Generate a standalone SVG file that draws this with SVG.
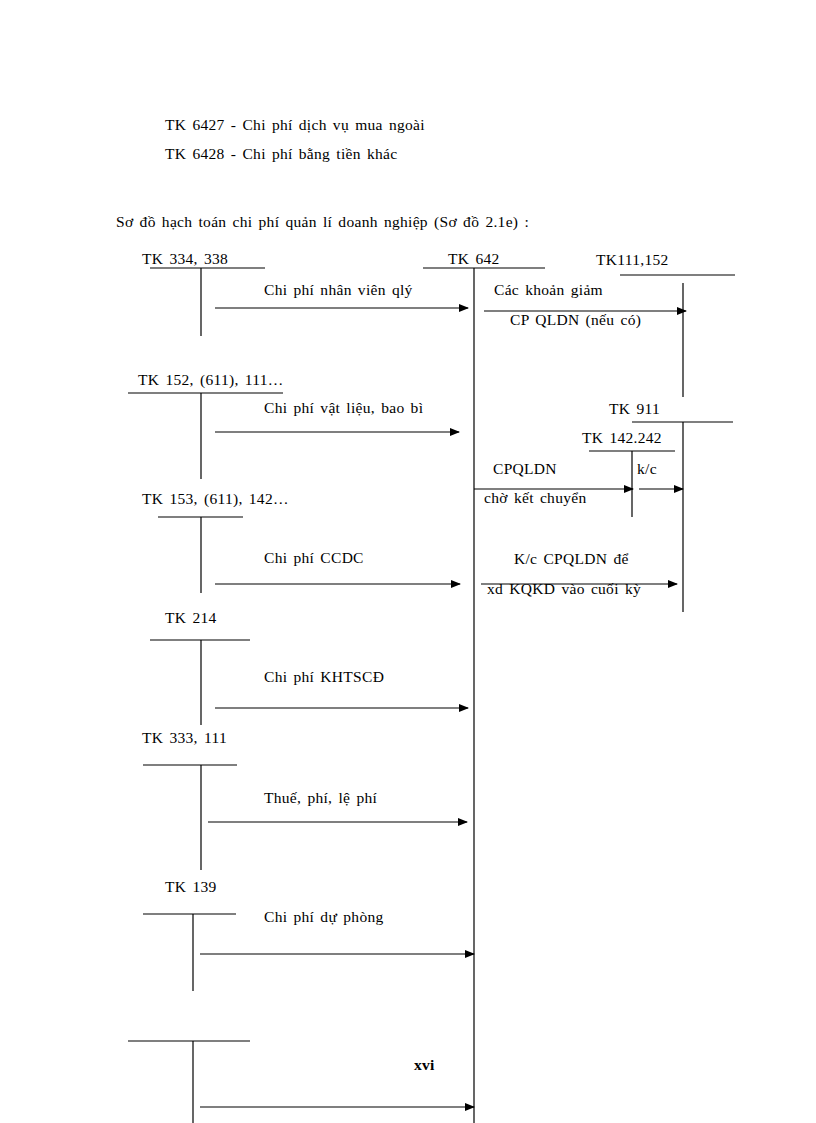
<svg xmlns="http://www.w3.org/2000/svg" width="816" height="1123" viewBox="0 0 816 1123">
<style>
text{font-family:"Liberation Serif",serif;font-size:15.5px;fill:#000;letter-spacing:0.3px;word-spacing:2px}
line{stroke:#000;stroke-width:1.2}
.a{marker-end:url(#ah)}
</style>
<defs><marker id="ah" markerWidth="10" markerHeight="8" refX="9" refY="4" orient="auto" markerUnits="userSpaceOnUse"><path d="M0,0L10,4L0,8z"/></marker></defs>
<rect width="816" height="1123" fill="#fff"/>
<text x="165" y="130">TK 6427 - Chi phí dịch vụ mua ngoài</text>
<text x="165" y="159">TK 6428 - Chi phí bằng tiền khác</text>
<text x="116" y="227">Sơ đồ hạch toán chi phí quản lí doanh nghiệp (Sơ đồ 2.1e) :</text>
<g id="tk642"><text x="448" y="264">TK 642</text><line x1="423" y1="268" x2="545" y2="268"/><line x1="474" y1="268" x2="474" y2="1123"/></g>
<g id="tk111"><text x="596" y="265">TK111,152</text><line x1="620" y1="275" x2="735" y2="275"/><line x1="683" y1="283" x2="683" y2="397"/></g>
<g id="tk911"><text x="609" y="414">TK 911</text><line x1="632" y1="422" x2="733" y2="422"/><line x1="683" y1="422" x2="683" y2="612"/></g>
<g id="tk142"><text x="582" y="443">TK 142.242</text><line x1="589" y1="451" x2="675" y2="451"/><line x1="632" y1="451" x2="632" y2="517"/></g>
<g id="tk334"><text x="142" y="264">TK 334, 338</text><line x1="150" y1="268" x2="265" y2="268"/><line x1="201" y1="268" x2="201" y2="336"/></g>
<g id="tk152"><text x="138" y="385">TK 152, (611), 111…</text><line x1="128" y1="393" x2="283" y2="393"/><line x1="201" y1="393" x2="201" y2="479"/></g>
<g id="tk153"><text x="142" y="504">TK 153, (611), 142…</text><line x1="158" y1="517" x2="243" y2="517"/><line x1="201" y1="517" x2="201" y2="593"/></g>
<g id="tk214"><text x="165" y="623">TK 214</text><line x1="150" y1="640" x2="250" y2="640"/><line x1="201" y1="640" x2="201" y2="725"/></g>
<g id="tk333"><text x="142" y="743">TK 333, 111</text><line x1="143" y1="765" x2="237" y2="765"/><line x1="201" y1="765" x2="201" y2="870"/></g>
<g id="tk139"><text x="165" y="892">TK 139</text><line x1="143" y1="914" x2="236" y2="914"/><line x1="193" y1="914" x2="193" y2="991"/></g>
<g id="tkx"><line x1="128" y1="1041" x2="250" y2="1041"/><line x1="193" y1="1041" x2="193" y2="1123"/></g>
<g id="connectors">
<line class="a" x1="215" y1="308" x2="468" y2="308"/>
<line class="a" x1="484" y1="311" x2="686" y2="311"/>
<line class="a" x1="215" y1="432" x2="459" y2="432"/>
<line class="a" x1="474" y1="489" x2="633" y2="489"/>
<line class="a" x1="639" y1="489" x2="683" y2="489"/>
<line class="a" x1="215" y1="584" x2="460" y2="584"/>
<line class="a" x1="481" y1="584" x2="677" y2="584"/>
<line class="a" x1="215" y1="708" x2="468" y2="708"/>
<line class="a" x1="208" y1="822" x2="467" y2="822"/>
<line class="a" x1="200" y1="954" x2="474" y2="954"/>
<line class="a" x1="200" y1="1107" x2="474" y2="1107"/>
</g>
<text x="264" y="295">Chi phí nhân viên qlý</text>
<text x="494" y="295">Các khoản giảm</text>
<text x="510" y="325">CP QLDN (nếu có)</text>
<text x="264" y="413">Chi phí vật liệu, bao bì</text>
<text x="493" y="474">CPQLDN</text>
<text x="484" y="503">chờ kết chuyển</text>
<text x="637" y="474">k/c</text>
<text x="264" y="563">Chi phí CCDC</text>
<text x="514" y="564">K/c CPQLDN để</text>
<text x="487" y="594">xd KQKD vào cuối kỳ</text>
<text x="264" y="682">Chi phí KHTSCĐ</text>
<text x="264" y="803">Thuế, phí, lệ phí</text>
<text x="264" y="922">Chi phí dự phòng</text>
<text x="414" y="1070" font-weight="bold">xvi</text>
</svg>
